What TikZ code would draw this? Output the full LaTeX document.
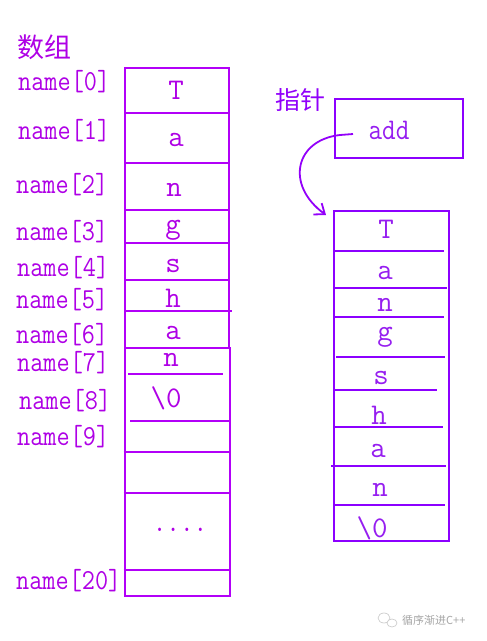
\documentclass[tikz,border=0pt]{standalone}
\usepackage{fontspec}
\usepackage{graphicx}
\newfontfamily\cjk{Noto Sans CJK SC}
\usetikzlibrary{arrows.meta}
\definecolor{labcol}{RGB}{175,0,230}
\definecolor{leftcol}{RGB}{178,0,248}
\definecolor{rightcol}{RGB}{140,0,255}
\definecolor{rtext}{RGB}{150,30,240}
\newcommand\sq[1]{\scalebox{0.88}[1]{#1}}
\tikzset{
  lab/.style={font=\fontsize{29}{29}\selectfont\ttfamily, text=labcol, anchor=west, inner sep=0pt},
  cellL/.style={font=\fontsize{30}{30}\selectfont\ttfamily, text=labcol, inner sep=0pt},
  cellR/.style={font=\fontsize{30}{30}\selectfont\ttfamily, text=rtext, inner sep=0pt},
  lline/.style={draw=leftcol, line width=2.4pt},
  rline/.style={draw=rightcol, line width=2.2pt},
  ttl/.style={font=\fontsize{27}{27}\selectfont\cjk, text=labcol, anchor=west, inner sep=0pt},
}
\begin{document}
\begin{tikzpicture}[x=1pt,y=-1pt]
\useasboundingbox (0,0) rectangle (487,641);
\fill[white] (0,0) rectangle (487,641);

% titles
\node[ttl] (t1) at (17,47) {数组};
\node[ttl, font=\fontsize{25}{25}\selectfont\cjk, text=rightcol!85!labcol] (t2) at (275,100) {指针};

% left array: upper part
\node[lline, anchor=north west, minimum width=104, minimum height=280, inner sep=0pt] (arrU) at (124,67) {};
\draw[lline] (124,113) -- (228,113);
\draw[lline] (124,163) -- (228,163);
\draw[lline] (124,210) -- (228,210);
\draw[lline] (124,243) -- (228,243);
\draw[lline] (124,280) -- (228,280);
\draw[lline] (124,311) -- (232,311);
% left array: lower part
\node[lline, anchor=north west, minimum width=105.5, minimum height=248, inner sep=0pt] (arrL) at (123.5,347) {};
\draw[lline] (128,374) -- (223,374);
\draw[lline] (130,421) -- (229,421);
\draw[lline] (123.5,452) -- (229,452);
\draw[lline] (123.5,493) -- (229,493);
\draw[lline] (123.5,570) -- (229,570);

% left labels
\node[lab] (l0) at (18,82) {\sq{name[0]}};
\node[lab] (l1) at (18,131) {\sq{name[1]}};
\node[lab] (l2) at (16,185) {\sq{name[2]}};
\node[lab] (l3) at (16,232) {\sq{name[3]}};
\node[lab] (l4) at (17,268) {\sq{name[4]}};
\node[lab] (l5) at (16,300) {\sq{name[5]}};
\node[lab] (l6) at (16,335) {\sq{name[6]}};
\node[lab] (l7) at (17,363) {\sq{name[7]}};
\node[lab] (l8) at (19,401) {\sq{name[8]}};
\node[lab] (l9) at (17,437) {\sq{name[9]}};
\node[lab] (l20) at (16,581) {\sq{name[20]}};

% left cell contents
\node[cellL] (c0) at (176,90) {T};
\node[cellL] (c1) at (176,140) {a};
\node[cellL] (c2) at (174,190) {n};
\node[cellL] (c3) at (173,230) {g};
\node[cellL] (c4) at (173,266) {s};
\node[cellL] (c5) at (173,298) {h};
\node[cellL] (c6) at (173,333) {a};
\node[cellL] (c7) at (171,360) {n};
\node[cellL] (c8) at (166,398) {\textbackslash 0};
\node[cellL] (cd) at (180,530) {\sq{....}};

% pointer box
\node[rline, anchor=north west, minimum width=128, minimum height=59, inner sep=0pt] (add) at (334,98) {};
\node[cellR] (addt) at (389,130) {\sq{add}};

% right string box
\node[rline, anchor=north west, minimum width=115, minimum height=330, inner sep=0pt] (str) at (333,210) {};
\draw[rline] (334,251) -- (444,251);
\draw[rline] (335,288) -- (447,288);
\draw[rline] (334,317) -- (444,317);
\draw[rline, line width=2.8pt] (336,357) -- (445,357);
\draw[rline, line width=2.8pt] (333,390) -- (437,390);
\draw[rline] (334,427) -- (443,427);
\draw[rline] (331,466) -- (446,466);
\draw[rline] (333,505) -- (445,505);

\node[cellR] (r0) at (386,229) {T};
\node[cellR] (r1) at (385,273) {a};
\node[cellR] (r2) at (385,305) {n};
\node[cellR] (r3) at (385,337) {g};
\node[cellR] (r4) at (381,378) {s};
\node[cellR] (r5) at (379,415) {h};
\node[cellR] (r6) at (378,451) {a};
\node[cellR] (r7) at (380,490) {n};
\node[cellR] (r8) at (372,528) {\textbackslash 0};

% curved arrow
\coordinate (as) at (353,134);
\coordinate (ae) at (326,215);
\draw[draw=rightcol!80!labcol, line width=1.8pt, -{Straight Barb[length=9pt,width=14pt]}]
  (as) -- (340,135) .. controls (295,140) and (285,185) .. (ae);

% watermark
\draw[gray!45, line width=0.6pt] (384,618) ellipse (6pt and 5pt);
\draw[gray!45, line width=0.6pt, fill=white] (392,623) ellipse (5pt and 4pt);
\node[font=\fontsize{11}{11}\selectfont\cjk, text=gray!70, anchor=west, inner sep=0pt] (wm) at (402,620) {循序渐进C++};
\end{tikzpicture}
\end{document}
